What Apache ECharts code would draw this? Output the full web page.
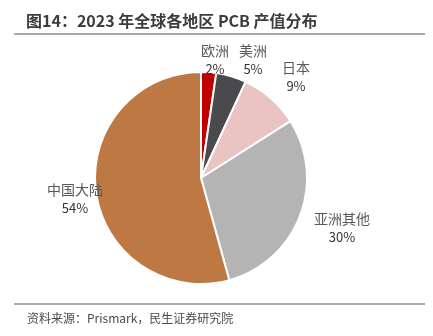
<!DOCTYPE html>
<html><head><meta charset="utf-8">
<script src="https://cdn.jsdelivr.net/npm/echarts@6/dist/echarts.min.js"></script>
<style>html,body{margin:0;padding:0;background:#fff}#c{width:433px;height:336px}</style>
</head><body><div id="c"></div>
<script>
const categories = ['欧洲', '美洲', '日本', '亚洲其他', '中国大陆'];
const values = [2.3, 4.6, 9.1, 29.7, 54.3];
const shownPct = ['2%', '5%', '9%', '30%', '54%'];
const colors = ['#C00000', '#4A4A4C', '#EAC3C3', '#B4B4B4', '#BD7844'];
const titleText = '图14：2023 年全球各地区 PCB 产值分布';
const sourceText = '资料来源：Prismark，民生证券研究院';

// label block centres (layout only)
const labelPos = [[215, 60], [253, 60], [296, 77], [342, 228], [75, 199]];

const chart = echarts.init(document.getElementById('c'));
chart.setOption({
  animation: false,
  title: [
    {text: titleText, left: 21, top: 8, textStyle: {fontFamily: 'Noto Sans CJK SC', fontSize: 16, fontWeight: 'bold', color: '#3c3c3c'}},
    {text: sourceText, left: 22, top: 307, textStyle: {fontFamily: 'Noto Sans CJK SC', fontSize: 12, fontWeight: 'normal', color: '#4a4a4a'}}
  ],
  graphic: [
    {type: 'line', shape: {x1: 14, y1: 34, x2: 425, y2: 34}, style: {stroke: '#555', lineWidth: 1.2}},
    {type: 'line', shape: {x1: 14, y1: 304, x2: 425, y2: 304}, style: {stroke: '#555', lineWidth: 1.2}}
  ],
  series: [{
    type: 'pie',
    center: [201, 178],
    radius: 106,
    startAngle: 90,
    clockwise: true,
    avoidLabelOverlap: false,
    itemStyle: {borderColor: '#fff', borderWidth: 2},
    label: {
      show: true,
      position: 'outside',
      formatter: p => '{n|' + p.name + '}\n{p|' + shownPct[p.dataIndex] + '}',
      rich: {
        n: {fontFamily: 'Noto Sans CJK SC', fontSize: 14, lineHeight: 19, color: '#595959', align: 'center'},
        p: {fontFamily: 'Noto Sans CJK SC', fontSize: 13, lineHeight: 19, color: '#333', align: 'center'}
      },
      align: 'center'
    },
    labelLine: {show: false},
    labelLayout: p => ({x: labelPos[p.dataIndex][0], y: labelPos[p.dataIndex][1], align: 'center', verticalAlign: 'middle'}),
    data: categories.map((n, i) => ({name: n, value: values[i], itemStyle: {color: colors[i]}}))
  }]
});
</script></body></html>
